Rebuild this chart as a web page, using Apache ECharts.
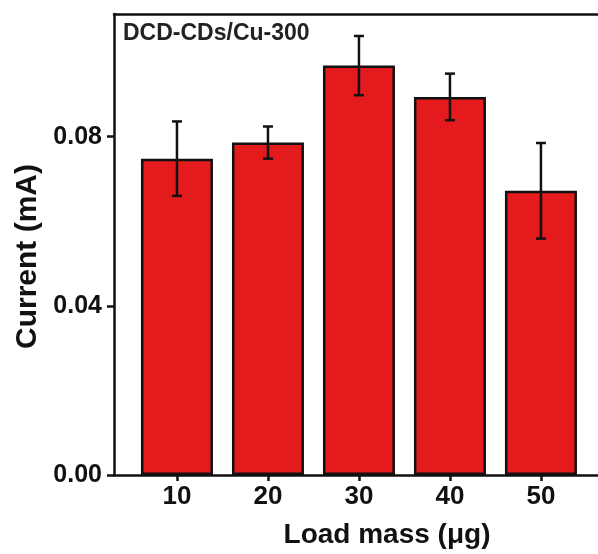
<!DOCTYPE html>
<html><head>
<meta charset="utf-8">
<title>Load mass</title>
<script src="https://cdn.jsdelivr.net/npm/echarts@6/dist/echarts.min.js"></script>
<style>
html,body{margin:0;padding:0;background:#fff;}
#main{width:598px;height:554px;}
</style>
</head>
<body>
<div id="main"></div>
<script type="text/javascript">
// data
var mass = [10, 20, 30, 40, 50];
var current = [0.0748, 0.0786, 0.0968, 0.0894, 0.0672];
var errs = [0.0088, 0.0038, 0.0070, 0.0055, 0.0113];
var yTicks = [0, 0.04, 0.08];

var barData = [];
var errData = [];
for (var i = 0; i < mass.length; i++) {
    barData.push([mass[i], current[i]]);
    errData.push([mass[i], current[i] - errs[i], current[i] + errs[i]]);
}

var myChart = echarts.init(document.getElementById('main'));
var font = 'Liberation Sans, Arial, sans-serif';

option = {
    backgroundColor: '#fff',
    animation: false,
    title: {
        text: 'DCD-CDs/Cu-300',
        left: 118,
        top: 17,
        textStyle: {fontFamily: font, fontWeight: 'bold', fontSize: 23, color: '#222'}
    },
    grid: {left: 114, right: 0, top: 14, bottom: 74, containLabel: false},
    xAxis: [
        {
            type: 'value',
            min: 3.08,
            max: 56.27,
            name: 'Load mass (μg)',
            nameLocation: 'middle',
            nameGap: 46,
            nameTextStyle: {fontFamily: font, fontWeight: 'bold', fontSize: 28, color: '#111', padding: [0, 0, 0, 62]},
            axisLine: {lineStyle: {color: '#111', width: 2.5}},
            axisTick: {customValues: mass, length: 6, lineStyle: {color: '#111', width: 2.5}},
            axisLabel: {customValues: mass, margin: 9, fontFamily: font, fontWeight: 'bold', fontSize: 26, color: '#111'},
            splitLine: {show: false}
        },
        {
            type: 'value',
            position: 'top',
            min: 3.08,
            max: 56.27,
            axisLine: {show: true, lineStyle: {color: '#111', width: 2.5}},
            axisTick: {show: false},
            axisLabel: {show: false},
            splitLine: {show: false}
        }
    ],
    yAxis: {
        type: 'value',
        min: 0,
        max: 0.109,
        name: 'Current (mA)',
        nameLocation: 'middle',
        nameGap: 70,
        nameTextStyle: {fontFamily: font, fontWeight: 'bold', fontSize: 30, color: '#111', padding: [0, 24, 0, 0]},
        axisLine: {show: true, lineStyle: {color: '#111', width: 2.5}},
        axisTick: {customValues: yTicks, length: 7, lineStyle: {color: '#111', width: 2.5}},
        axisLabel: {
            customValues: yTicks,
            margin: 12,
            fontFamily: font, fontWeight: 'bold', fontSize: 25, color: '#111',
            formatter: function (v) { return v.toFixed(2); }
        },
        splitLine: {show: false}
    },
    series: [
        {
            type: 'bar',
            data: barData,
            barWidth: 72,
            itemStyle: {color: '#e41a1c', borderColor: '#111', borderWidth: 2.5}
        },
        {
            type: 'custom',
            data: errData,
            z: 10,
            renderItem: function (params, api) {
                var x = api.value(0);
                var lo = api.coord([x, api.value(1)]);
                var hi = api.coord([x, api.value(2)]);
                var cap = 5;
                var st = {stroke: '#111', lineWidth: 2.5};
                return {
                    type: 'group',
                    children: [
                        {type: 'line', shape: {x1: lo[0], y1: lo[1], x2: hi[0], y2: hi[1]}, style: st},
                        {type: 'line', shape: {x1: hi[0] - cap, y1: hi[1], x2: hi[0] + cap, y2: hi[1]}, style: st},
                        {type: 'line', shape: {x1: lo[0] - cap, y1: lo[1], x2: lo[0] + cap, y2: lo[1]}, style: st}
                    ]
                };
            }
        }
    ]
};

myChart.setOption(option);
</script>
</body>
</html>
